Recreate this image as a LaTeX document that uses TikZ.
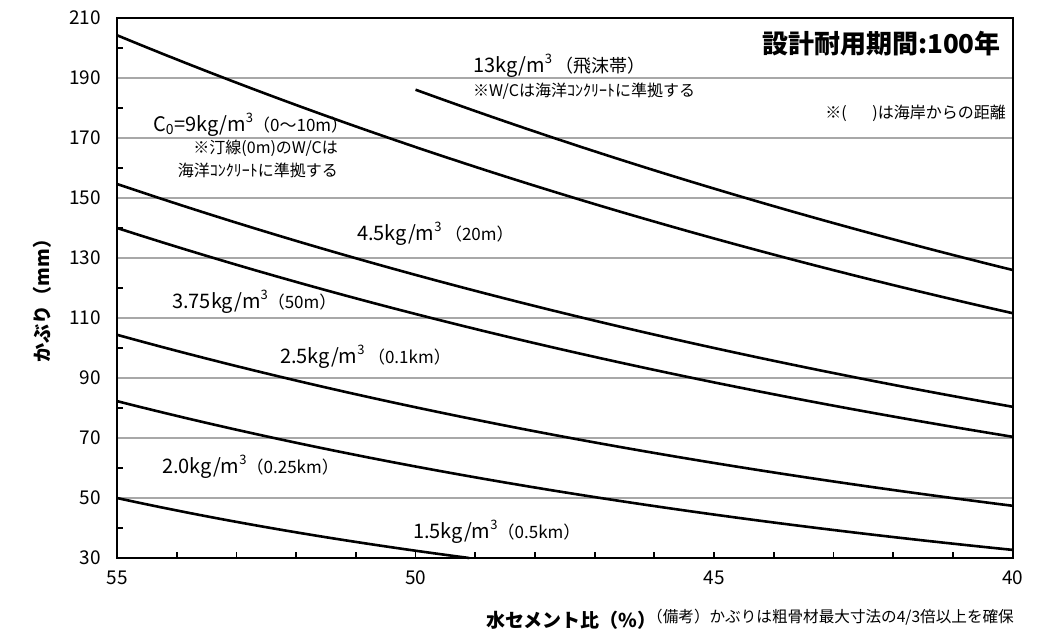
\documentclass[tikz,border=0pt]{standalone}
\usepackage{fontspec}
\setmainfont{Noto Sans CJK JP}
\usetikzlibrary{
  positioning
}
\usepackage{xcolor}
\definecolor{gridGray}{rgb}{0.66,0.66,0.66}
\tikzset{
  curve/.style={line width=2.6pt, line join=round},
  gridline/.style={draw=gridGray, line width=1.1pt},
  frame/.style={line width=1.8pt},
  ticklbl/.style={font=\fontsize{19}{19}\selectfont, inner sep=0pt},
  lbl/.style={font=\fontsize{20}{20}\selectfont, inner sep=0pt, anchor=west},
  note/.style={font=\fontsize{16}{16}\selectfont, inner sep=0pt, anchor=west},
  axtitle/.style={font=\bfseries\fontsize{19}{19}\selectfont, inner sep=0pt}
}
\newcommand{\paren}[1]{{\fontsize{17}{17}\selectfont #1}}
\newcommand{\cube}{\raisebox{0.45em}{\fontsize{13}{13}\selectfont 3}}

\begin{document}
\begin{tikzpicture}[x=1pt, y=1pt]
  \useasboundingbox (0,0) rectangle (1058,634);
  \fill[white] (0,0) rectangle (1058,634);

  \begin{scope}[shift={(3401.05,-14)}, x=-59.71pt, y=3pt]
    \foreach \v in {50,70,...,190}{
      \draw[gridline] (55,\v) -- (40,\v);
    }
    \foreach \v in {40,60,...,200}{
      \draw[frame] (55,\v) -- ++(-0.1,0);
    }
    \foreach \w in {41,...,54}{
      \draw[frame] (\w,30) -- ++(0,2);
    }
    \draw[frame] (55,30) rectangle (40,210);

    % chloride curves
    \foreach \a/\b/\lo/\hi in {126/0.039/40/50, 111.6/0.0403/40/55,
        80.4/0.04363/40/55, 70.4/0.04583/40/55, 47.4/0.05264/40/55,
        32.7/0.06153/40/55, 13.64/0.0866/49.1/55}{
      \draw[curve] plot[domain=\lo:\hi, samples=40] (\x, {\a*exp(\b*(\x-40))});
    }

    \foreach \v in {30,50,...,210}{
      \node[ticklbl, left=16pt] (yl\v) at (55,\v) {\v};
    }
    \foreach \w in {55,50,45,40}{
      \node[ticklbl, below=13pt] (xl\w) at (\w,30) {\w};
    }
  \end{scope}

  \node[font=\bfseries\fontsize{26}{26}\selectfont, inner sep=0pt, anchor=east]
    (title) at (1001,590) {設計耐用期間:100年};
  \node[lbl] (lbl13) at (473,568) {13kg/m\cube\,\fontsize{18}{18}\selectfont（飛沫帯）};
  \node[note, below=5pt of lbl13.south west, anchor=north west] (wc13)
    {※W/Cは海洋ｺﾝｸﾘｰﾄに準拠する};
  \node[note, anchor=east] (dist) at (1006,521) {※(\hspace{1.6em})は海岸からの距離};

  \node[lbl] (lbl9) at (153,509) {C\textsubscript{0}=9kg/m\cube\paren{（0〜10m）}};
  \node[note, anchor=east] (shore1) at (338,486) {※汀線(0m)のW/Cは};
  \node[note, anchor=east] (shore2) at (338,464) {海洋ｺﾝｸﾘｰﾄに準拠する};

  \node[lbl] (lbl45) at (357,400) {4.5kg/m\cube\,\paren{（20m）}};
  \node[lbl] (lbl375) at (172,332) {3.75kg/m\cube\paren{（50m）}};
  \node[lbl] (lbl25) at (280,277) {2.5kg/m\cube\,\paren{（0.1km）}};
  \node[lbl] (lbl20) at (162,167) {2.0kg/m\cube\paren{（0.25km）}};
  \node[lbl] (lbl15) at (413,102) {1.5kg/m\cube\paren{（0.5km）}};

  \node[axtitle, rotate=90] (ytitle) at (42,338) {かぶり（mm）};
  \node[axtitle, anchor=west] (xtitle) at (486,14) {水セメント比（\%）};
  \node[note, font=\fontsize{15.6}{15.6}\selectfont] (remark) at (647,17) {（備考）かぶりは粗骨材最大寸法の4/3倍以上を確保};
\end{tikzpicture}
\end{document}
